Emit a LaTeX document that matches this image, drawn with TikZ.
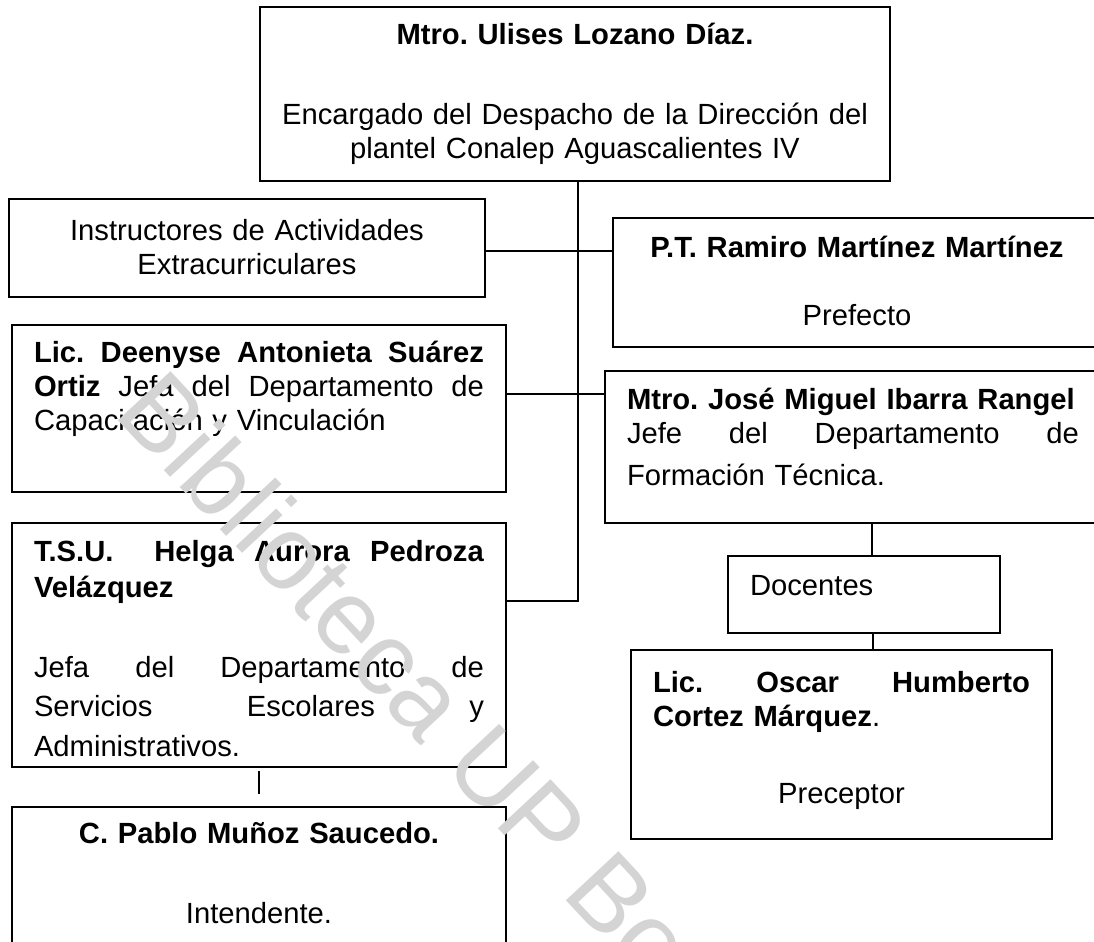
\documentclass[tikz,border=0pt]{standalone}
\usepackage{fontspec}
\setmainfont{Liberation Sans}
\usetikzlibrary{calc}

% one pixel of the page
\newdimen\pxu \pxu=0.411pt
\newcommand\pxl[1]{\the\dimexpr #1\pxu\relax}
% justified line
\newcommand\jl[1]{{\spaceskip=0.278em plus 1fil\xspaceskip=\spaceskip
  \makebox[\linewidth][s]{#1}}}

\tikzset{
  cajabox/.style={draw,line width=0.75pt,inner ysep=0pt,inner xsep=\pxl{22},
    outer sep=0pt,anchor=north west,font=\fontsize{12}{14}\selectfont},
  linea/.style={line width=0.75pt},
  marca/.style={text=black!17,font=\fontsize{43}{43}\selectfont,inner sep=0pt}
}

\begin{document}
\frenchspacing
\begin{tikzpicture}[x=0.411pt,y=-0.411pt]
  \useasboundingbox (0,0) rectangle (1094,942);
  \clip (0,0) rectangle (1094,942);
  \fill[white] (0,0) rectangle (1094,942);

  \node[cajabox,align=center,inner xsep=\pxl{8},text width=\pxl{614},text height=\pxl{38},text depth=\pxl{136}]
    (ulises) at (260,7) {\textbf{Mtro. Ulises Lozano Díaz.}\\[\pxl{45}]
    Encargado del Despacho de la Dirección del\\ plantel Conalep Aguascalientes IV};
  \node[cajabox,align=center,text width=\pxl{432},text height=\pxl{41},text depth=\pxl{57}]
    (instr) at (9,199) {Instructores de Actividades\\ Extracurriculares};
  \node[cajabox,align=center,text width=\pxl{444},text height=\pxl{39},text depth=\pxl{90}]
    (pt) at (613,218) {\textbf{P.T. Ramiro Martínez Martínez}\\[\pxl{34}] Prefecto};
  \node[cajabox,align=left,text width=\pxl{450},text height=\pxl{37},text depth=\pxl{130}]
    (deenyse) at (12,325) {\jl{\textbf{Lic. Deenyse Antonieta Suárez}}\\
    \jl{\textbf{Ortiz} Jefa del Departamento de}\\ Capacitación y Vinculación};
  \node[cajabox,align=left,text width=\pxl{452},text height=\pxl{38},text depth=\pxl{114}]
    (jose) at (605,371) {\textbf{Mtro. José Miguel Ibarra Rangel}\\
    \jl{Jefe del Departamento de}\\[\pxl{8}] Formación Técnica.};
  \node[cajabox,align=left,text width=\pxl{228},text height=\pxl{39},text depth=\pxl{38}]
    (docentes) at (728,556) {Docentes};
  \node[cajabox,align=left,text width=\pxl{377},text height=\pxl{42},text depth=\pxl{147}]
    (oscar) at (631,650) {\jl{\textbf{Lic. Oscar Humberto}}\\
    \textbf{Cortez Márquez}.\\[\pxl{43}] \makebox[\linewidth]{Preceptor}};
  \node[cajabox,align=left,text width=\pxl{450},text height=\pxl{38},text depth=\pxl{206}]
    (helga) at (12,523) {\jl{\textbf{T.S.U.\ \ Helga Aurora Pedroza}}\\[\pxl{2}]
    \textbf{Velázquez}\\[\pxl{46}] \jl{Jefa del Departamento de}\\[\pxl{5}]
    \jl{Servicios Escolares y}\\[\pxl{6}] Administrativos.};
  \node[cajabox,align=center,text width=\pxl{450},text height=\pxl{36},text depth=\pxl{117}]
    (pablo) at (12,807) {\textbf{C. Pablo Muñoz Saucedo.}\\[\pxl{46}] Intendente.};

  % trunk and branches
  \coordinate (nudo-a) at (578,251);
  \coordinate (nudo-b) at (578,394);
  \coordinate (nudo-c) at (578,601);
  \draw[linea] (ulises.south -| nudo-a) -- (nudo-c) -- (helga.east |- nudo-c);
  \draw[linea] (instr.east |- nudo-a) -- (pt.west |- nudo-a);
  \draw[linea] (deenyse.east |- nudo-b) -- (jose.west |- nudo-b);
  \draw[linea] ([xshift=\pxl{8}]docentes.north) -- ([xshift=\pxl{8}]docentes.north |- jose.south);
  \draw[linea] ([xshift=\pxl{9}]docentes.south) -- ([xshift=\pxl{9}]docentes.south |- oscar.north);
  \draw[linea] ([yshift=-\pxl{4}]helga.south) -- ([yshift=\pxl{13}]pablo.north);

  \node[marca,rotate=-47,anchor=base west] (marca) at (112,414) {Biblioteca UP Bonaterra};
\end{tikzpicture}
\end{document}
